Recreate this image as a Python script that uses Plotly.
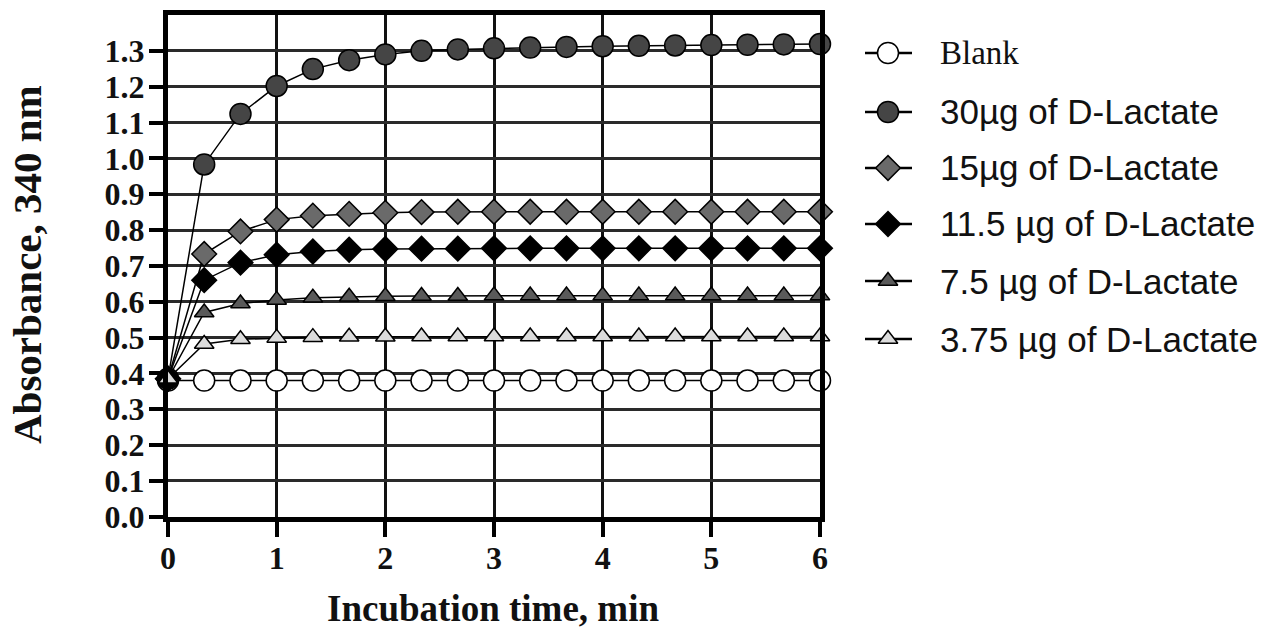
import plotly.graph_objects as go

# ---------------- data ----------------
time_min = [0, 0.333, 0.667, 1, 1.333, 1.667, 2, 2.333, 2.667, 3,
            3.333, 3.667, 4, 4.333, 4.667, 5, 5.333, 5.667, 6]

blank = [0.38, 0.38, 0.38, 0.38, 0.38, 0.38, 0.38, 0.38, 0.38, 0.38,
         0.38, 0.38, 0.38, 0.38, 0.38, 0.38, 0.38, 0.38, 0.38]
lact_30 = [0.385, 0.983, 1.124, 1.202, 1.249, 1.274, 1.290, 1.300, 1.304, 1.307,
           1.309, 1.311, 1.313, 1.314, 1.315, 1.316, 1.317, 1.318, 1.319]
lact_15 = [0.385, 0.733, 0.796, 0.829, 0.840, 0.845, 0.848, 0.850, 0.851, 0.851,
           0.851, 0.851, 0.851, 0.851, 0.851, 0.851, 0.851, 0.851, 0.851]
lact_11_5 = [0.385, 0.660, 0.709, 0.731, 0.740, 0.745, 0.747, 0.748, 0.748, 0.749,
             0.749, 0.749, 0.749, 0.749, 0.749, 0.749, 0.749, 0.749, 0.749]
lact_7_5 = [0.385, 0.570, 0.595, 0.605, 0.611, 0.614, 0.615, 0.616, 0.616, 0.617,
            0.617, 0.617, 0.617, 0.617, 0.617, 0.617, 0.617, 0.617, 0.617]
lact_3_75 = [0.385, 0.482, 0.495, 0.499, 0.501, 0.502, 0.502, 0.503, 0.503, 0.503,
             0.503, 0.503, 0.503, 0.503, 0.503, 0.503, 0.503, 0.503, 0.503]

series_names = ["Blank", "30\u00b5g of D-Lactate", "15\u00b5g of D-Lactate",
                "11.5 \u00b5g of D-Lactate", "7.5 \u00b5g of D-Lactate",
                "3.75 \u00b5g of D-Lactate"]
series_values = [blank, lact_30, lact_15, lact_11_5, lact_7_5, lact_3_75]

y_tick_vals = [0.0, 0.1, 0.2, 0.3, 0.4, 0.5, 0.6, 0.7, 0.8, 0.9, 1.0, 1.1, 1.2, 1.3]
x_tick_vals = [0, 1, 2, 3, 4, 5, 6]

# ---------------- styles ----------------
W, H = 1268, 628
symbols = ["circle", "circle", "diamond", "diamond", "triangle-up", "triangle-up"]
fills = ["#ffffff", "#454545", "#6a6a6a", "#000000", "#5a5a5a", "#dcdcdc"]
sizes = [21, 21, 19, 19, 17, 17]

SERIF = "Liberation Serif"
SANS = "Liberation Sans"

fig = go.Figure()

for name, vals, sym, col, sz in zip(series_names, series_values, symbols, fills, sizes):
    fig.add_trace(go.Scatter(
        x=time_min, y=vals, mode="lines+markers", name=name,
        line=dict(color="#000000", width=1.5),
        marker=dict(symbol=sym, size=sz, color=col,
                    line=dict(color="#000000", width=1.5)),
        showlegend=False, xaxis="x", yaxis="y", cliponaxis=False,
    ))

# ---------------- manual legend (pixel overlay axes) ----------------
leg_rows = [53, 112, 168, 224, 281, 339]
leg_x0, leg_xm, leg_x1, leg_tx = 865, 888, 912, 938
for i, (name, sym, col, sz) in enumerate(zip(series_names, symbols, fills, sizes)):
    yc = leg_rows[i]
    fig.add_trace(go.Scatter(
        x=[leg_x0, leg_x1], y=[yc, yc], mode="lines",
        line=dict(color="#000000", width=2.5),
        showlegend=False, xaxis="x2", yaxis="y2", hoverinfo="skip"))
    fig.add_trace(go.Scatter(
        x=[leg_xm], y=[yc], mode="markers",
        marker=dict(symbol=sym, size=sz, color=col,
                    line=dict(color="#000000", width=1.5)),
        showlegend=False, xaxis="x2", yaxis="y2", hoverinfo="skip"))
    fig.add_annotation(
        x=leg_tx / W, y=1 - yc / H, xref="paper", yref="paper",
        xanchor="left", yanchor="middle", showarrow=False, text=name,
        font=dict(family=SERIF if i == 0 else SANS,
                  size=33 if i == 0 else 35, color="#111111"))

# ---------------- axis titles ----------------
fig.add_annotation(
    x=27 / W, y=1 - 265 / H, xref="paper", yref="paper", textangle=-90,
    showarrow=False, xanchor="center", yanchor="middle",
    text="Absorbance, 340 nm",
    font=dict(family=SERIF, size=41, color="#111111", weight="bold"))
fig.add_annotation(
    x=493 / W, y=1 - 608 / H, xref="paper", yref="paper",
    showarrow=False, xanchor="center", yanchor="middle",
    text="Incubation time, min",
    font=dict(family=SERIF, size=37, color="#111111", weight="bold"))

x_dom = [168 / W, 820 / W]
y_dom = [1 - 516.7 / H, 1 - 15 / H]

fig.update_layout(
    width=W, height=H,
    margin=dict(l=0, r=0, t=0, b=0),
    paper_bgcolor="#ffffff", plot_bgcolor="rgba(0,0,0,0)",
    template="none",
    showlegend=False,
    xaxis=dict(
        domain=x_dom, range=[0, 6], tickvals=x_tick_vals,
        showgrid=True, gridcolor="#111111", gridwidth=3,
        showline=True, linecolor="#000000", linewidth=5, mirror=True,
        ticks="outside", ticklen=15, tickwidth=4, tickcolor="#000000",
        ticklabelstandoff=-6,
        tickfont=dict(family=SERIF, size=32, color="#111111", weight="bold"),
        zeroline=False, automargin=False, anchor="y",
    ),
    yaxis=dict(
        domain=y_dom, range=[0, 1.4], tickvals=y_tick_vals, tickformat=".1f",
        showgrid=True, gridcolor="#2a2a2a", gridwidth=3,
        showline=True, linecolor="#000000", linewidth=5, mirror=True,
        ticks="outside", ticklen=14, tickwidth=4, tickcolor="#000000",
        ticklabelstandoff=-2,
        tickfont=dict(family=SERIF, size=32, color="#111111", weight="bold"),
        zeroline=False, automargin=False, anchor="x",
    ),
    xaxis2=dict(domain=[0, 1], range=[0, W], visible=False, fixedrange=True,
                anchor="y2"),
    yaxis2=dict(domain=[0, 1], range=[H, 0], visible=False, fixedrange=True,
                anchor="x2"),
)

fig.write_html("out.html")
